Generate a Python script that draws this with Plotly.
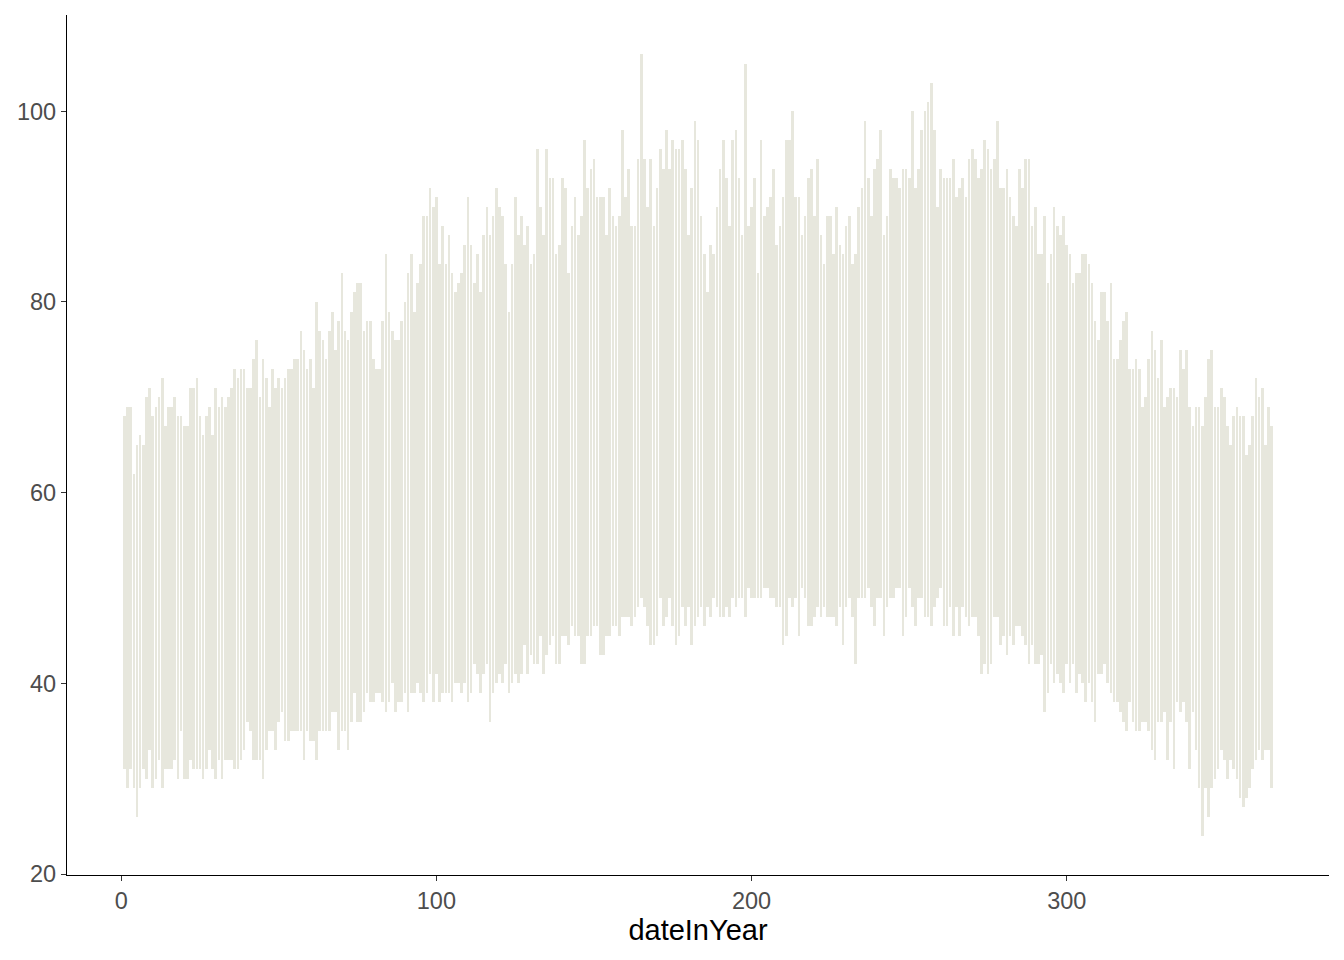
import plotly.graph_objects as go

days = list(range(1, 366))

temp_max = [
68,69,69,62,65,66,65,70,71,68,69,70,72,67,69,69,70,68,68,67,
67,71,71,72,68,66,68,69,66,71,69,70,69,70,71,73,72,73,73,71,
71,74,76,70,74,72,69,73,71,72,71,72,73,73,74,74,77,75,73,74,
71,80,77,76,74,77,79,75,78,83,77,76,79,81,82,82,77,78,78,74,
73,73,78,85,79,77,76,76,78,80,83,85,79,82,84,89,89,92,90,91,
84,88,84,87,83,81,82,83,86,91,86,82,85,81,87,90,87,89,92,90,
89,84,79,84,91,87,89,86,88,84,85,96,90,87,96,93,93,85,86,93,
92,83,88,91,87,89,97,92,94,95,91,91,91,87,92,89,88,89,98,91,
94,88,88,95,106,95,90,95,88,92,96,94,98,94,97,96,96,97,94,87,
92,99,97,89,85,81,86,85,90,94,97,93,88,97,98,93,87,105,88,90,
93,83,97,89,90,91,94,86,88,91,97,97,100,91,91,87,89,93,94,89,
95,87,84,89,89,85,90,86,85,88,89,84,85,90,92,99,93,89,94,95,
98,87,89,94,93,93,92,94,94,93,100,92,94,98,100,101,103,98,90,94,
93,93,93,95,91,92,93,91,95,96,95,93,94,97,96,94,95,99,92,92,
94,91,89,88,94,92,95,95,88,90,85,85,89,82,85,90,88,87,89,86,
85,82,83,83,85,85,84,82,78,76,81,81,78,82,74,74,76,78,79,73,
73,74,73,69,70,74,77,75,72,76,69,70,71,71,70,75,73,75,69,67,
69,69,67,70,74,75,69,69,71,70,67,65,68,69,68,68,64,65,68,72,
70,71,65,69,67,
]

temp_min = [
31,29,31,29,26,29,31,30,33,29,30,32,29,31,31,31,32,30,35,30,
30,32,31,31,31,30,31,33,31,30,32,30,32,32,32,31,31,32,33,36,
35,32,32,32,30,33,35,35,33,36,37,34,34,35,35,35,35,32,35,34,
34,32,35,35,35,35,37,37,33,35,35,33,36,39,36,36,37,39,38,38,
39,39,38,37,38,40,37,38,38,39,37,39,39,40,39,38,39,41,38,41,
38,39,39,39,38,40,40,39,40,38,39,42,41,39,41,42,36,39,40,41,
40,42,39,40,41,40,41,44,41,43,42,42,45,41,43,44,45,42,42,45,
45,44,46,45,45,42,42,45,45,46,46,43,43,45,45,46,46,45,47,47,
47,46,47,48,49,48,46,44,44,45,49,46,47,49,46,44,45,48,46,48,
44,46,47,48,46,48,47,49,48,47,47,48,47,49,48,49,49,47,50,49,
49,49,49,50,50,49,49,48,48,44,45,49,48,49,45,50,49,46,46,47,
48,47,48,47,47,47,46,48,44,48,49,47,42,49,49,49,50,48,46,49,
49,45,48,49,49,50,50,45,47,50,48,46,49,49,47,47,46,48,49,50,
46,46,48,45,48,45,48,47,46,47,47,45,41,42,41,42,47,47,44,45,
43,45,44,46,46,45,44,42,44,42,42,43,37,39,42,40,41,40,39,42,
40,42,39,41,40,38,40,38,36,41,41,42,40,39,38,38,37,36,35,38,
36,35,35,36,36,35,33,32,36,36,37,32,36,31,38,37,38,36,31,37,
33,29,24,29,26,29,30,31,33,32,30,32,31,30,28,27,28,29,31,32,
33,32,33,33,29,
]

x_ticks = [0, 100, 200, 300]
y_ticks = [20, 40, 60, 80, 100]

FONT = "Liberation Sans, Arial, sans-serif"

fig = go.Figure()
fig.add_trace(go.Bar(
    x=days,
    y=[hi - lo for hi, lo in zip(temp_max, temp_min)],
    base=temp_min,
    width=0.84,
    marker=dict(color="#E7E7DD", line=dict(width=0)),
    showlegend=False,
    hoverinfo="skip",
))

axis_common = dict(
    showgrid=False,
    zeroline=False,
    showline=True,
    linecolor="black",
    linewidth=1.3,
    ticks="outside",
    ticklen=5,
    tickwidth=1.2,
    tickcolor="#333333",
    tickfont=dict(family=FONT, size=23.5, color="#4D4D4D"),
    automargin=False,
)

fig.update_layout(
    width=1336,
    height=952,
    paper_bgcolor="white",
    plot_bgcolor="white",
    margin=dict(l=59, r=15, t=7, b=85, pad=0),
    bargap=0,
    xaxis=dict(
        range=[-17.2, 383.2],
        tickvals=x_ticks,
        ticktext=[str(v) for v in x_ticks],
        title=dict(text="dateInYear", font=dict(family=FONT, size=29, color="black"), standoff=4),
        **axis_common,
    ),
    yaxis=dict(
        range=[19.9, 110.1],
        tickvals=y_ticks,
        ticktext=[str(v) for v in y_ticks],
        **axis_common,
    ),
)

fig.write_html("out.html")
